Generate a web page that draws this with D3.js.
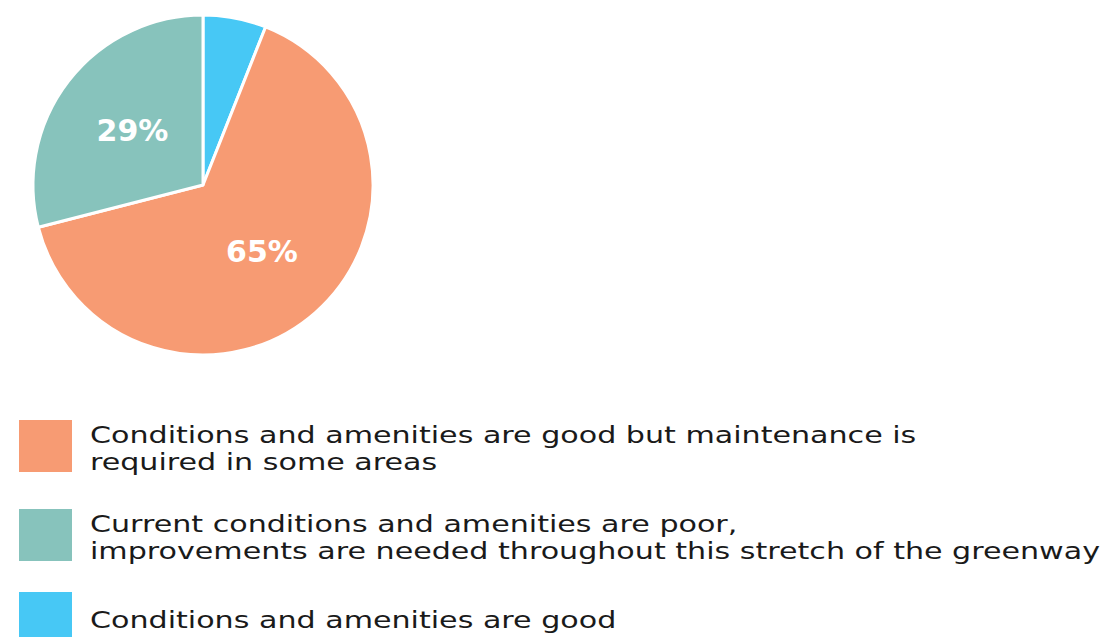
<!DOCTYPE html>
<html><head><meta charset="utf-8">
<script src="https://cdn.jsdelivr.net/npm/d3@7"></script>
<style>
html,body{margin:0;padding:0;background:#fff;}
svg{display:block;}
</style></head>
<body>
<svg id="chart" width="1114" height="637"></svg>
<script>
// ---- data ----
const categories = [
  "Conditions and amenities are good",
  "Conditions and amenities are good but maintenance is required in some areas",
  "Current conditions and amenities are poor, improvements are needed throughout this stretch of the greenway"
];
const values = [6, 65, 29];
const valueLabels = ["", "65%", "29%"];
const colors = ["#47c8f5", "#f79b73", "#87c3bc"];
// legend order and line breaks
const legendOrder = [1, 2, 0];
const legendLines = [
  ["Conditions and amenities are good but maintenance is", "required in some areas"],
  ["Current conditions and amenities are poor,", "improvements are needed throughout this stretch of the greenway"],
  ["Conditions and amenities are good"]
];

// ---- layout ----
const W = 1114, H = 637;
const cx = 203, cy = 185, R = 170;
const legendX = 19, legendSq = 53, legendTextX = 90;
const legendTops = [420, 509, 592];
const lineH = 27;
const legendFS = 23;

const svg = d3.select("#chart");
const pie = d3.pie().sort(null).value(d => d)(values);
const arc = d3.arc().innerRadius(0).outerRadius(R);
const labelArc = d3.arc().innerRadius(0).outerRadius(R * 1.05);

const g = svg.append("g").attr("transform", `translate(${cx},${cy})`);
g.selectAll("path").data(pie).join("path")
  .attr("d", arc)
  .attr("fill", (d, i) => colors[i])
  .attr("stroke", "#fff")
  .attr("stroke-width", 3)
  .attr("stroke-linejoin", "round");

g.selectAll("text.lbl").data(pie).join("text")
  .attr("class", "lbl")
  .attr("transform", d => `translate(${labelArc.centroid(d)})`)
  .attr("text-anchor", "middle")
  .attr("dominant-baseline", "central")
  .attr("font-family", "'DejaVu Sans', sans-serif")
  .attr("font-weight", "bold")
  .attr("font-size", 30)
  .attr("fill", "#fff")
  .text((d, i) => valueLabels[i]);

// legend
const lg = svg.append("g");
const items = lg.selectAll("g.item").data(legendOrder).join("g")
  .attr("class", "item")
  .attr("transform", (d, i) => `translate(0,${legendTops[i]})`);
items.append("rect")
  .attr("x", legendX).attr("y", 0)
  .attr("width", legendSq).attr("height", 52)
  .attr("fill", d => colors[d]);

const allLines = [];
items.each(function(d, i) {
  const lines = legendLines[i];
  const it = d3.select(this);
  lines.forEach((ln, j) => {
    const y = lines.length === 1 ? 36 : 22.5 + j * lineH;
    const t = it.append("text")
      .attr("x", legendTextX).attr("y", y)
      .attr("font-family", "'DejaVu Sans', sans-serif")
      .attr("font-size", legendFS)
      .attr("fill", "#1a1a1a")
      .text(ln);
    allLines.push(t);
  });
});
// stretch lines so the longest matches the reference width
let maxW = 0;
allLines.forEach(t => { maxW = Math.max(maxW, t.node().getComputedTextLength()); });
const k = 1010 / maxW;
allLines.forEach(t => {
  const w = t.node().getComputedTextLength();
  t.attr("textLength", w * k).attr("lengthAdjust", "spacingAndGlyphs");
});
</script>
</body></html>
